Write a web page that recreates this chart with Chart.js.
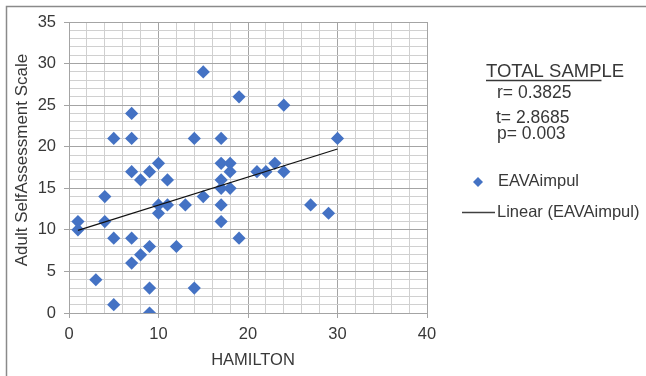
<!DOCTYPE html>
<html>
<head>
<meta charset="utf-8">
<title>HAMILTON vs Adult SelfAssessment Scale</title>
<script src="https://cdn.jsdelivr.net/npm/chart.js@4/dist/chart.umd.min.js"></script>
<style>
  html, body { margin: 0; padding: 0; background: #ffffff; }
  canvas { display: block; }
</style>
</head>
<body>
<canvas id="chart" width="646" height="376"></canvas>
<script>
// HAMILTON scores (x) and Adult SelfAssessment Scale scores (y), one pair per subject
const hamilton = [1, 1, 3, 4, 4, 5, 5, 5, 7, 7, 7, 7, 7, 8, 8, 9, 9, 9, 9, 10, 10, 10, 11, 11, 12, 13, 14, 14, 15, 15,
                  17, 17, 17, 17, 17, 17, 18, 18, 18, 19, 19, 21, 22, 23, 24, 24, 27, 29, 30];
const adultSelfAssessment = [11, 10, 4, 14, 11, 21, 9, 1, 24, 21, 17, 9, 6, 16, 7, 17, 8, 3, 0, 18, 13, 12, 16, 13, 8, 13, 21, 3, 29, 14,
                  21, 18, 16, 15, 13, 11, 18, 17, 15, 26, 9, 17, 17, 18, 25, 17, 13, 12, 21];

const seriesName = 'EAVAimpul';
const trendName = 'Linear (EAVAimpul)';
const xTitle = 'HAMILTON';
const yTitle = 'Adult SelfAssessment Scale';
const sampleTitle = 'TOTAL SAMPLE';
const statLines = ['r= 0.3825', 't= 2.8685', 'p= 0.003'];

const xRange = { min: 0, max: 40, minorStep: 2, majorStep: 10 };
const yRange = { min: 0, max: 35, minorStep: 1, majorStep: 5 };

const MARKER = '#4472C4';
const TEXT = '#383838';
const GRID_MAJOR = '#a4a4a4';
const GRID_MINOR = '#d0d0d0';
const FONT = '"Liberation Sans", Arial, sans-serif';

// least-squares trend line over the observed x range
function linearFit(xs, ys) {
  const n = xs.length;
  const mx = xs.reduce((a, b) => a + b, 0) / n;
  const my = ys.reduce((a, b) => a + b, 0) / n;
  let sxy = 0, sxx = 0;
  for (let i = 0; i < n; i++) {
    sxy += (xs[i] - mx) * (ys[i] - my);
    sxx += (xs[i] - mx) * (xs[i] - mx);
  }
  const slope = sxy / sxx;
  return { slope, intercept: my - slope * mx };
}
const fit = linearFit(hamilton, adultSelfAssessment);
const xLo = Math.min(...hamilton), xHi = Math.max(...hamilton);
const trendPoints = [xLo, xHi].map(x => ({ x, y: fit.intercept + fit.slope * x }));

const points = hamilton.map((x, i) => ({ x, y: adultSelfAssessment[i] }));

// outer frame, axis titles, statistics block and legend
const decorations = {
  id: 'decorations',
  afterDraw(chart) {
    const c = chart.ctx;
    const area = chart.chartArea;
    c.save();

    c.strokeStyle = '#8a8a8a';
    c.lineWidth = 1.5;
    c.strokeRect(6.5, 6.5, 700, 400);

    c.fillStyle = TEXT;
    c.textBaseline = 'alphabetic';

    // x title
    c.font = '16.5px ' + FONT;
    c.textAlign = 'center';
    c.fillText(xTitle, (area.left + area.right) / 2 + 5, 365);

    // y title
    c.save();
    c.translate(27, 160);
    c.rotate(-Math.PI / 2);
    c.font = '17px ' + FONT;
    c.textAlign = 'center';
    c.fillText(yTitle, 0, 0);
    c.restore();

    // sample heading, partly underlined
    c.textAlign = 'left';
    c.font = '18.5px ' + FONT;
    c.fillText(sampleTitle, 486, 77);
    const underlineW = c.measureText(sampleTitle.slice(0, 10)).width;
    c.strokeStyle = TEXT;
    c.lineWidth = 1.4;
    c.beginPath();
    c.moveTo(486, 80.5);
    c.lineTo(486 + underlineW, 80.5);
    c.stroke();

    // statistics
    c.font = '17.5px ' + FONT;
    const statX = [497, 496, 497];
    const statY = [98, 122.5, 139];
    statLines.forEach((s, i) => c.fillText(s, statX[i], statY[i]));

    // legend: marker entry
    c.fillStyle = MARKER;
    c.beginPath();
    c.moveTo(478, 177);
    c.lineTo(483, 182);
    c.lineTo(478, 187);
    c.lineTo(473, 182);
    c.closePath();
    c.fill();
    c.fillStyle = TEXT;
    c.font = '16.5px ' + FONT;
    c.fillText(seriesName, 498, 186);

    // legend: trend line entry
    c.strokeStyle = '#404040';
    c.lineWidth = 1.5;
    c.beginPath();
    c.moveTo(462, 212.5);
    c.lineTo(495, 212.5);
    c.stroke();
    c.fillText(trendName, 497, 216.5);

    c.restore();
  }
};

const majorOf = (v, step) => Math.abs(v % step) < 1e-9;

new Chart(document.getElementById('chart'), {
  type: 'scatter',
  data: {
    datasets: [
      {
        label: seriesName,
        data: points,
        pointStyle: 'rectRot',
        pointRadius: 6.6,
        pointHoverRadius: 6.6,
        pointBackgroundColor: MARKER,
        pointBorderColor: MARKER,
        pointBorderWidth: 0,
        showLine: false,
        order: 2
      },
      {
        type: 'line',
        label: trendName,
        data: trendPoints,
        borderColor: '#111111',
        borderWidth: 1.2,
        pointRadius: 0,
        fill: false,
        order: 1
      }
    ]
  },
  options: {
    responsive: false,
    animation: false,
    events: [],
    layout: { padding: { top: 22, right: 219, left: 0, bottom: 0 } },
    plugins: {
      legend: { display: false },
      tooltip: { enabled: false },
      title: { display: false }
    },
    scales: {
      x: {
        type: 'linear',
        min: xRange.min,
        max: xRange.max,
        afterFit(scale) { scale.height = 63; },
        ticks: {
          stepSize: xRange.minorStep,
          autoSkip: false,
          maxRotation: 0,
          padding: 7,
          color: TEXT,
          font: { family: FONT, size: 16.5 },
          callback: v => majorOf(v, xRange.majorStep) ? String(v) : ''
        },
        grid: {
          color: ctx => majorOf(ctx.tick.value, xRange.majorStep) ? GRID_MAJOR : GRID_MINOR,
          tickColor: ctx => majorOf(ctx.tick.value, xRange.majorStep) ? GRID_MAJOR : 'rgba(0,0,0,0)',
          tickLength: 5,
          lineWidth: 1
        },
        border: { display: true, color: GRID_MAJOR, width: 1 }
      },
      y: {
        type: 'linear',
        min: yRange.min,
        max: yRange.max,
        afterFit(scale) { scale.width = 69; },
        ticks: {
          stepSize: yRange.minorStep,
          autoSkip: false,
          padding: 8,
          color: TEXT,
          font: { family: FONT, size: 16.5 },
          callback: v => majorOf(v, yRange.majorStep) ? String(v) : ''
        },
        grid: {
          color: ctx => majorOf(ctx.tick.value, yRange.majorStep) ? GRID_MAJOR : GRID_MINOR,
          tickColor: ctx => majorOf(ctx.tick.value, yRange.majorStep) ? GRID_MAJOR : 'rgba(0,0,0,0)',
          tickLength: 5,
          lineWidth: 1
        },
        border: { display: true, color: GRID_MAJOR, width: 1 }
      }
    }
  },
  plugins: [decorations]
});
</script>
</body>
</html>
